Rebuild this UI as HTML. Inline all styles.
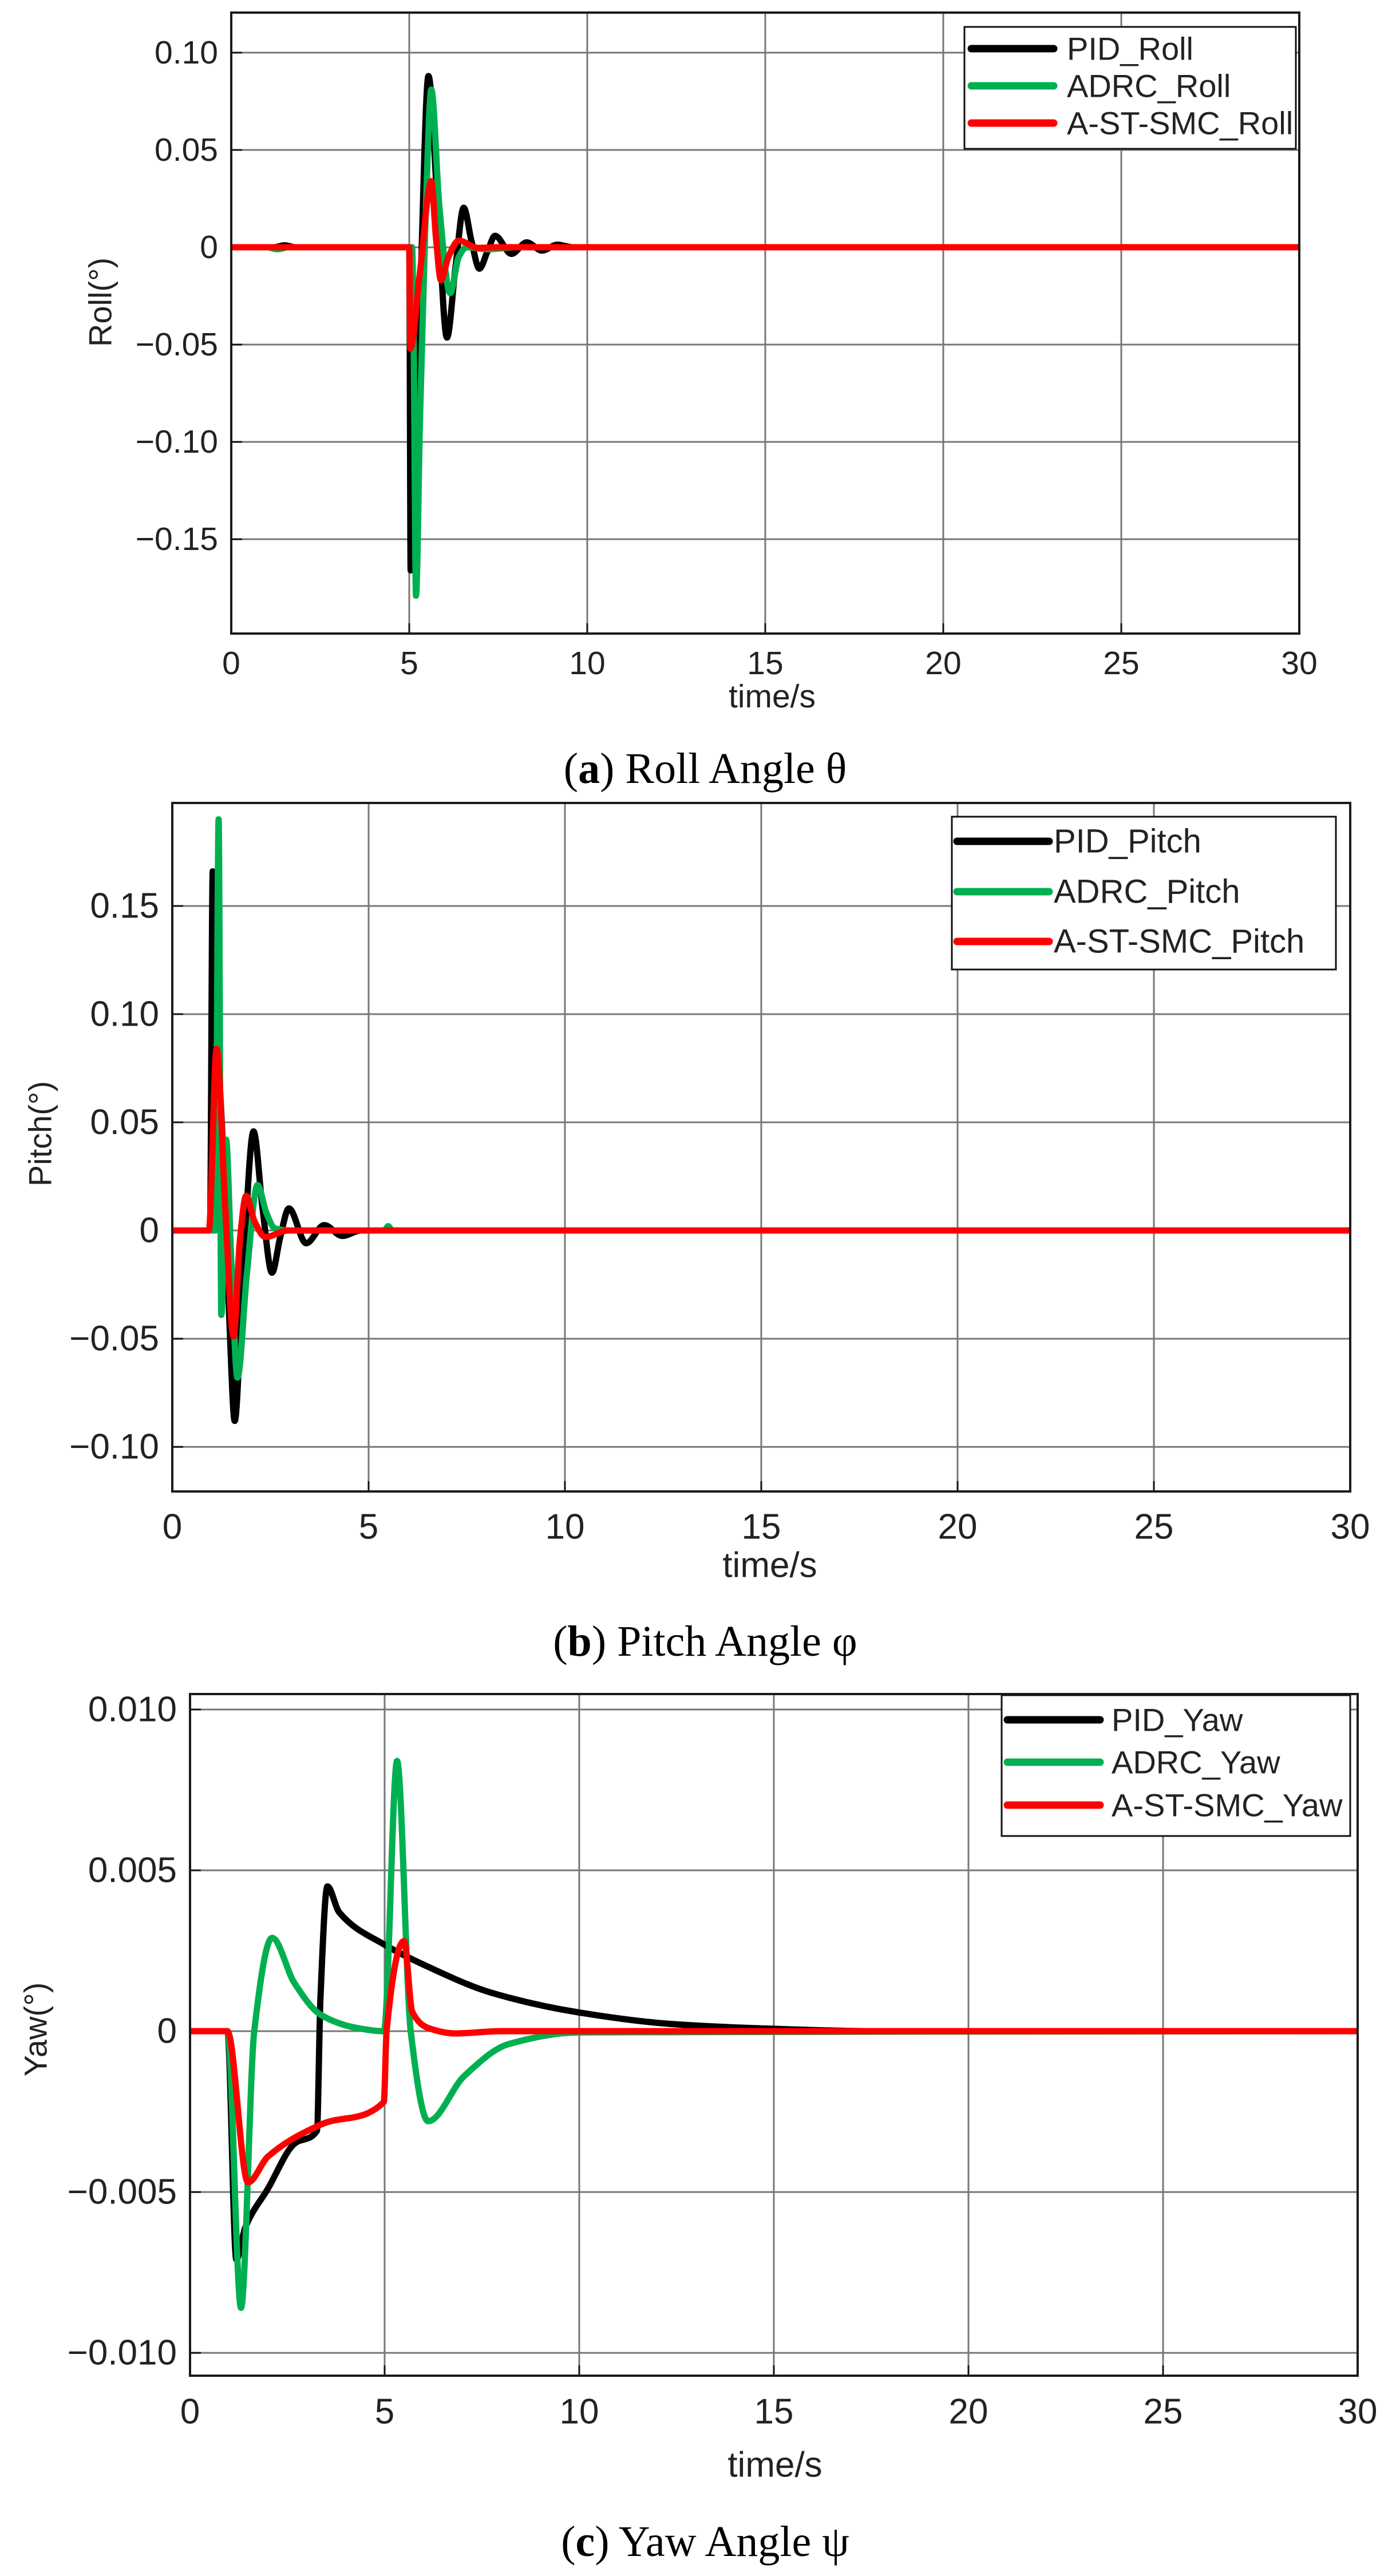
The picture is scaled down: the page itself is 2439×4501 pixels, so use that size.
<!DOCTYPE html>
<html><head><meta charset="utf-8"><style>
html,body{margin:0;padding:0;background:#fff;}
svg{display:block;}
text{font-family:"Liberation Sans",Arial,sans-serif;fill:#222;}
.cap{font-family:"Liberation Serif","DejaVu Serif",serif;fill:#000;}
</style></head><body>
<svg id="fig" width="2439" height="4501" viewBox="0 0 2439 4501" xmlns="http://www.w3.org/2000/svg"></svg>
<script>
// ---- Roll data ----
const rollPidT = [0,1.2,1.5,1.8,5.0,5.04,5.3,5.54,5.8,6.06,6.3,6.53,6.75,6.97,7.2,7.41,7.87,8.30,8.73,9.16,9.6,30];
const rollPidV = [0,0,0.001,0,0,-0.166,-0.03,0.088,0.02,-0.0464,-0.01,0.0203,0.003,-0.011,-0.002,0.0059,-0.0034,0.0025,-0.0017,0.0013,0,0];
const rollAdrcT = [0,1.0,1.3,1.6,5.08,5.12,5.19,5.3,5.45,5.62,5.85,6.15,6.39,6.61,7.2,8,30];
const rollAdrcV = [0,0,-0.001,0,0,-0.04,-0.179,-0.09,0.01,0.081,0.02,-0.0236,-0.005,0,-0.001,0,0];
const rollSmcT = [0,5.0,5.03,5.3,5.62,5.75,5.89,6.1,6.39,6.93,7.5,30];
const rollSmcV = [0,0,-0.052,-0.013,0.034,0.005,-0.0169,-0.005,0.0034,-0.0003,0,0];
const rollYTicks = [0.10,0.05,0,-0.05,-0.10,-0.15];
const rollYLabels = ["0.10","0.05","0","\u22120.05","\u22120.10","\u22120.15"];
// ---- Pitch data ----
const pitchPidT = [0,0.96,1.03,1.15,1.27,1.45,1.59,1.8,2.07,2.3,2.54,2.75,2.97,3.41,3.87,4.33,4.8,5.5,30];
const pitchPidV = [0,0,0.166,0.09,0.046,-0.04,-0.088,-0.02,0.0458,0.01,-0.0195,-0.003,0.0102,-0.0059,0.0025,-0.0025,0,0,0];
const pitchAdrcT = [0,1.1,1.18,1.25,1.37,1.5,1.66,1.9,2.17,2.4,2.61,3,5.4,5.5,5.6,30];
const pitchAdrcV = [0,0,0.19,-0.039,0.042,-0.013,-0.068,-0.02,0.021,0.008,0.001,0,0,0.002,0,0];
const pitchSmcT = [0,0.93,1.13,1.35,1.56,1.72,1.88,2.1,2.37,2.95,30];
const pitchSmcV = [0,0,0.084,0.01,-0.049,-0.005,0.016,0.004,-0.003,0,0];
const pitchYTicks = [0.15,0.10,0.05,0,-0.05,-0.10];
const pitchYLabels = ["0.15","0.10","0.05","0","\u22120.05","\u22120.10"];
// ---- Yaw data ----
const yawPidT = [0,0.96,1.19,1.42,2.0,2.68,3.26,3.35,3.53,3.83,4.98,6.12,7.73,10.0,12.3,14.6,17.6,30];
const yawPidV = [0,0,-0.0071,-0.0061,-0.0049,-0.0035,-0.0031,0.001,0.0045,0.0037,0.0027,0.002,0.0012,0.00058,0.00023,0.00009,0,0];
const yawAdrcT = [0,0.96,1.31,1.65,2.11,2.68,3.37,4.29,4.98,5.32,5.67,6.12,7.04,8.19,10,30];
const yawAdrcV = [0,0,-0.0086,0,0.0029,0.0015,0.0005,0.0001,0,0.0084,0,-0.0028,-0.0014,-0.0004,-0.00004,0];
const yawSmcT = [0,0.96,1.49,2.0,3.37,4.98,5.05,5.5,5.71,6.12,6.81,8,30];
const yawSmcV = [0,0,-0.0047,-0.0039,-0.0029,-0.0022,0.0,0.0028,0.0006,0.0001,-0.00007,0,0];
const yawYTicks = [0.010,0.005,0,-0.005,-0.010];
const yawYLabels = ["0.010","0.005","0","\u22120.005","\u22120.010"];
// shared
const xTicks = [0,5,10,15,20,25,30];
const xLabels = ["0","5","10","15","20","25","30"];

const NS = "http://www.w3.org/2000/svg";
const svg = document.getElementById('fig');
function mk(tag, attrs, parent){
  const e = document.createElementNS(NS, tag);
  for (const k in attrs) e.setAttribute(k, attrs[k]);
  (parent||svg).appendChild(e);
  return e;
}
function monoPath(px, py){
  const n = px.length; if (n<2) return "";
  const d=[], m=new Array(n);
  for (let i=0;i<n-1;i++) d.push((py[i+1]-py[i])/((px[i+1]-px[i])||1e-9));
  m[0]=d[0]; m[n-1]=d[n-2];
  for (let i=1;i<n-1;i++){
    if (d[i-1]*d[i]<=0) m[i]=0;
    else { const h0=px[i]-px[i-1], h1=px[i+1]-px[i];
      const w1=2*h1+h0, w2=h1+2*h0; m[i]=(w1+w2)/(w1/d[i-1]+w2/d[i]); }
  }
  let s = "M"+px[0].toFixed(2)+","+py[0].toFixed(2);
  for (let i=0;i<n-1;i++){
    const h=(px[i+1]-px[i])/3;
    s += " C"+(px[i]+h).toFixed(2)+","+(py[i]+m[i]*h).toFixed(2)+" "+(px[i+1]-h).toFixed(2)+","+(py[i+1]-m[i+1]*h).toFixed(2)+" "+px[i+1].toFixed(2)+","+py[i+1].toFixed(2);
  }
  return s;
}
const COLORS = {pid:"#000000", adrc:"#00b050", smc:"#ff0000"};

function chart(cfg){
  const g = mk('g', {});
  
  
  const L=cfg.left,R=cfg.right,T=cfg.top,B=cfg.bottom;
  const xs = t => L + (t-0)/(30-0)*(R-L);
  const ys = v => T + (cfg.ymax - v)/(cfg.ymax-cfg.ymin)*(B-T);
  const fs = cfg.fs;
  xTicks.forEach((t,i)=>{
    const gl = mk('line',{x1:xs(t),x2:xs(t),y1:T,y2:B,stroke:"#777","stroke-width":3},g);
    
    
    const tk = mk('line',{x1:xs(t),x2:xs(t),y1:B,y2:B-18,stroke:"#111","stroke-width":3},g);
    
    
    const lb = mk('text',{x:xs(t),y:cfg.xLabelY,"text-anchor":"middle","dominant-baseline":"central","font-size":fs},g);
    lb.textContent = xLabels[i];
    
    
  });
  cfg.yTicks.forEach((v,i)=>{
    const gl = mk('line',{x1:L,x2:R,y1:ys(v),y2:ys(v),stroke:"#777","stroke-width":3},g);
    
    
    const tk = mk('line',{x1:L,x2:L+19,y1:ys(v),y2:ys(v),stroke:"#111","stroke-width":3},g);
    
    
    const lb = mk('text',{x:L-23,y:ys(v),"text-anchor":"end","dominant-baseline":"central","font-size":fs},g);
    lb.textContent = cfg.yLabels[i];
    
    
  });
  const cp = mk('clipPath',{id:'clip-'+cfg.name},g);
  mk('rect',{x:L,y:T,width:R-L,height:B-T},cp);
  const sg = mk('g',{"clip-path":"url(#clip-"+cfg.name+")"},g);
  cfg.series.forEach(s=>{
    const p = mk('path',{d:monoPath(s.t.map(xs), s.v.map(ys)),fill:"none",stroke:COLORS[s.key],"stroke-width":11,"stroke-linejoin":"round","stroke-linecap":"round"},sg);
    
    
  });
  const box = mk('rect',{x:L,y:T,width:R-L,height:B-T,fill:"none",stroke:"#1a1a1a","stroke-width":4},g);
  
  
  const lg = mk('g',{},g);
  
  
  const Lg = cfg.legend;
  mk('rect',{x:Lg.x1,y:Lg.y1,width:Lg.x2-Lg.x1,height:Lg.y2-Lg.y1,fill:"#fff",stroke:"#111","stroke-width":3},lg);
  cfg.series.forEach((s,i)=>{
    const ent = mk('g',{},lg);
    
    
    mk('line',{x1:Lg.lx1,x2:Lg.lx2,y1:Lg.rows[i],y2:Lg.rows[i],stroke:COLORS[s.key],"stroke-width":13,"stroke-linecap":"round"},ent);
    const tx = mk('text',{x:Lg.tx,y:Lg.rows[i],"dominant-baseline":"central","font-size":cfg.lfs,fill:"#000"},ent);
    tx.textContent = s.label;
  });
  const xt = mk('text',{x:cfg.xTitleX,y:cfg.xTitleY,"text-anchor":"middle","dominant-baseline":"central","font-size":fs},g);
  xt.textContent = "time/s";
  
  
  const yt = mk('text',{x:0,y:0,"text-anchor":"middle","dominant-baseline":"central","font-size":56,transform:"translate("+cfg.yTitleX+","+cfg.yTitleY+") rotate(-90)"},g);
  yt.textContent = cfg.yTitle;
  
  
  const cap = mk('text',{x:1232,y:cfg.capY,"text-anchor":"middle","dominant-baseline":"central","font-size":76,class:"cap"},g);
  
  
  const t1 = mk('tspan',{},cap); t1.textContent="(";
  const t2 = mk('tspan',{"font-weight":"bold"},cap); t2.textContent=cfg.capLetter;
  const t3 = mk('tspan',{},cap); t3.textContent=") "+cfg.capText;
}

chart({name:"roll",left:404,right:2270,top:22,bottom:1107,ymax:0.1206,ymin:-0.1985,fs:57,lfs:56,
  yTicks:rollYTicks,yLabels:rollYLabels,xLabelY:1159,xTitleX:1349,xTitleY:1217,
  yTitle:"Roll(°)",yTitleX:175,yTitleY:528,capY:1343,capLetter:"a",capText:"Roll Angle θ",
  legend:{x1:1685,x2:2264,y1:47,y2:260,rows:[85,150,215],lx1:1697,lx2:1841,tx:1864},
  series:[{key:"pid",label:"PID_Roll",t:rollPidT,v:rollPidV},
          {key:"adrc",label:"ADRC_Roll",t:rollAdrcT,v:rollAdrcV},
          {key:"smc",label:"A-ST-SMC_Roll",t:rollSmcT,v:rollSmcV}]});

chart({name:"pitch",left:301,right:2359,top:1403,bottom:2606,ymax:0.1976,ymin:-0.1206,fs:62,lfs:58,
  yTicks:pitchYTicks,yLabels:pitchYLabels,xLabelY:2668,xTitleX:1345,xTitleY:2735,
  yTitle:"Pitch(°)",yTitleX:70,yTitleY:1981,capY:2868,capLetter:"b",capText:"Pitch Angle φ",
  legend:{x1:1663,x2:2334,y1:1427,y2:1694,rows:[1470,1558,1645],lx1:1672,lx2:1833,tx:1841},
  series:[{key:"pid",label:"PID_Pitch",t:pitchPidT,v:pitchPidV},
          {key:"adrc",label:"ADRC_Pitch",t:pitchAdrcT,v:pitchAdrcV},
          {key:"smc",label:"A-ST-SMC_Pitch",t:pitchSmcT,v:pitchSmcV}]});

chart({name:"yaw",left:332,right:2372,top:2960,bottom:4151,ymax:0.01048,ymin:-0.01071,fs:62,lfs:56,
  yTicks:yawYTicks,yLabels:yawYLabels,xLabelY:4214,xTitleX:1354,xTitleY:4307,
  yTitle:"Yaw(°)",yTitleX:62,yTitleY:3546,capY:4441,capLetter:"c",capText:"Yaw Angle ψ",
  legend:{x1:1750,x2:2359,y1:2962,y2:3208,rows:[3005,3079,3154],lx1:1760,lx2:1922,tx:1942},
  series:[{key:"pid",label:"PID_Yaw",t:yawPidT,v:yawPidV},
          {key:"adrc",label:"ADRC_Yaw",t:yawAdrcT,v:yawAdrcV},
          {key:"smc",label:"A-ST-SMC_Yaw",t:yawSmcT,v:yawSmcV}]});
</script>
</body></html>
